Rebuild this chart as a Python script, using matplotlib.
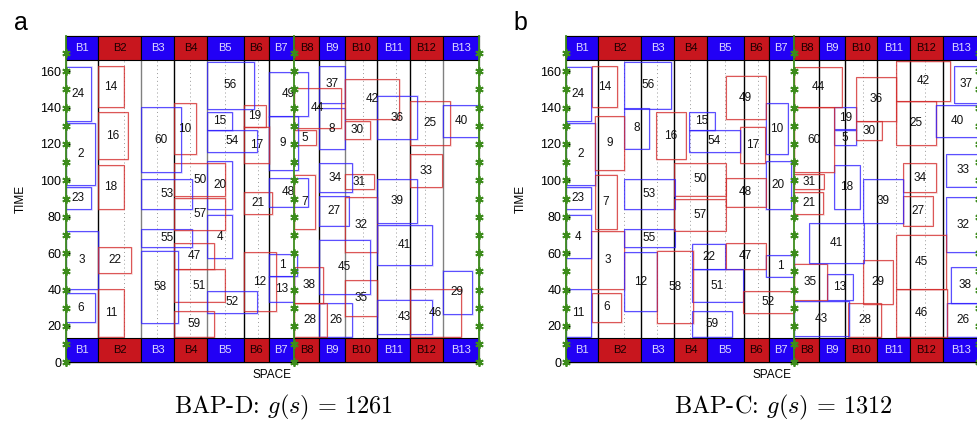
import numpy as np
import matplotlib
matplotlib.use('Agg')
import matplotlib.pyplot as plt
from matplotlib.patches import Rectangle

plt.rcParams['font.family'] = ['Liberation Sans', 'DejaVu Sans']
plt.rcParams['mathtext.fontset'] = 'cm'

# berths (quay length units)
berth_names = ['B%d' % i for i in range(1, 14)]
berth_len = [40, 53, 40, 40.4, 45, 30.6, 31.1, 31.1, 31.1, 40, 40.1, 40.2, 44.9]
dotted_pos = [72, 112, 152, 196, 236, 365, 405, 441]
split_berth = 7          # green line after B7
gray_bounds_a = [2, 4, 9, 12]

# vessels 1..60: length and handling time
ves_len = [35, 36, 40, 31, 27, 36, 26, 31, 36, 27,
           31, 40, 31, 31, 31, 36, 31, 31, 27, 31,
           35, 40, 31, 31, 49, 40, 36, 40, 36, 31,
           36, 40, 40, 40, 40, 49, 31, 36, 49, 53,
           67, 67, 67, 58, 62, 63, 49, 49, 49, 63,
           62, 62, 62, 62, 62, 58, 63, 45, 49, 49]
ves_dur = [12, 34, 32, 24, 8.4, 16, 30, 22.3, 29.7, 28,
           26, 32.2, 14.2, 22.4, 9.8, 26, 20.2, 24, 12, 26.2,
           12.1, 14.1, 12, 29.9, 24.4, 18.3, 16.3, 18.3, 24, 10.1,
           8.1, 30.2, 18.1, 15.9, 20, 24, 20.2, 19.8, 24.1, 17.6,
           22, 22, 19, 22, 30, 26, 14.3, 15.8, 24, 17.8,
           17.8, 12.4, 16.3, 12.2, 10, 25.9, 17.4, 40, 14.1, 36]

# BAP-D solution: berth index and start time
berth_a = [7, 1, 1, 5, 8, 1, 8, 9, 7, 4,
           2, 6, 7, 2, 5, 2, 6, 2, 6, 5,
           6, 2, 1, 1, 12, 9, 9, 8, 13, 10,
           10, 10, 12, 9, 10, 11, 9, 8, 11, 13,
           11, 10, 11, 8, 9, 12, 4, 7, 7, 4,
           4, 5, 3, 5, 3, 5, 4, 3, 4, 3]
start_a = [47.4, 97.3, 40.1, 57.1, 119.2, 22.1, 73.1, 117.2, 105.7, 114.3,
           14.1, 28.2, 33.3, 140.3, 127.6, 111.5, 109.3, 84.2, 129.3, 84.2,
           81.3, 49.2, 84.2, 132.6, 119.2, 14.1, 75.1, 14.1, 26.4, 122.5,
           95.2, 60.4, 96.2, 93.4, 25.3, 122.5, 142.6, 32.4, 76.4, 123.6,
           53.5, 133.5, 15.5, 128.6, 37.4, 14.1, 51.1, 85.5, 135.3, 91.5,
           33.3, 26.9, 84.2, 115.4, 63.2, 139.3, 72.7, 21.4, 14.1, 104.4]

# BAP-C solution: quay position, start time, colour
pos_b = [245.4, 0, 31.5, 0, 329.6, 31.9, 36.4, 71.6, 35.6, 245.4,
         0, 71.6, 321, 31.9, 151.7, 111.2, 213.9, 329.6, 329.6, 245.4,
         280.5, 155.4, 0, 0, 405.2, 467.4, 414.3, 346.8, 365.2, 356.6,
         280.5, 467, 467, 414.3, 280.5, 356.6, 476.4, 472.4, 365.2, 454,
         298.5, 405.2, 280.5, 280.5, 405.2, 405.2, 196.3, 196.3, 196.3, 133.3,
         155.4, 217.6, 71.6, 151.7, 71.6, 71.6, 133.3, 111.7, 155.4, 280.5]
start_b = [47.1, 97.3, 40.1, 57.1, 119.2, 22.2, 73.1, 117.4, 105.5, 114.3,
           14.1, 28.2, 34.2, 140.3, 127.7, 111.5, 109.3, 84.2, 128.2, 84.2,
           81.3, 51.1, 84.2, 132.6, 119.2, 14.1, 75.1, 14.1, 32.1, 122.3,
           95.2, 60.4, 96.5, 93.4, 34.2, 132.6, 142.6, 32.4, 76.4, 123.6,
           54.4, 143.6, 14.5, 140.3, 40.1, 14.1, 51.1, 85.5, 133.5, 91.6,
           33.3, 26.9, 84.2, 115.4, 63.2, 139.4, 72.3, 21.4, 14.1, 104.4]
col_b = ['b', 'b', 'r', 'b', 'b', 'r', 'r', 'b', 'r', 'b',
         'b', 'b', 'b', 'r', 'b', 'r', 'r', 'b', 'b', 'b',
         'r', 'b', 'b', 'b', 'r', 'b', 'r', 'r', 'r', 'r',
         'r', 'b', 'b', 'r', 'r', 'r', 'b', 'b', 'b', 'b',
         'b', 'r', 'b', 'r', 'r', 'r', 'r', 'r', 'r', 'r',
         'b', 'r', 'b', 'b', 'b', 'b', 'r', 'r', 'b', 'r']

titles = [r'BAP-D: $g(s)$ = $1261$', r'BAP-C: $g(s)$ = $1312$']
panel_tags = ['a', 'b']

band_blue = '#2200f5'
band_red = '#c8161e'
edge_col = {'b': '#3020ff', 'r': '#d42a2a'}
green = '#3d8c1c'

edges = np.concatenate([[0], np.cumsum(berth_len)])
x_max = edges[-1]
band_h = 13.2
y_top = 179.5


def draw_panel(ax, xs, ts, cols, gray_bounds):
    ax.set_xlim(0, x_max)
    ax.set_ylim(0, y_top)

    # dotted guides
    for xd in dotted_pos:
        ax.plot([xd, xd], [band_h, y_top - band_h], ls=(0, (1, 3)), color='#999999', lw=0.7, zorder=1)
    # berth boundaries
    for i in range(1, len(edges) - 1):
        if i == split_berth:
            continue
        c = '#808080' if i in gray_bounds else 'black'
        ax.plot([edges[i], edges[i]], [0, y_top], color=c, lw=1.0, zorder=2)

    # vessels
    for k in range(len(ves_len)):
        ec = edge_col[cols[k]]
        r = Rectangle((xs[k], ts[k]), ves_len[k], ves_dur[k], fill=False,
                      ec=ec, lw=0.8, alpha=0.75, zorder=3)
        ax.add_patch(r)
        sh = Rectangle((xs[k] + 0.9, ts[k] - 0.4), ves_len[k], ves_dur[k], fill=False,
                       ec=ec, lw=1.2, alpha=0.18, zorder=3)
        ax.add_patch(sh)
        x0 = xs[k]
        x1 = min(xs[k] + ves_len[k], x_max)
        ax.text((x0 + x1) / 2, ts[k] + ves_dur[k] / 2, str(k + 1), ha='center', va='center',
                fontsize=8.5, color='#111111', zorder=4)

    # berth bands top and bottom
    for i, name in enumerate(berth_names):
        fc = band_blue if i % 2 == 0 else band_red
        tc = '#e0dcff' if i % 2 == 0 else '#1a0000'
        for yb in [0, y_top - band_h]:
            ax.add_patch(Rectangle((edges[i], yb), berth_len[i], band_h, fc=fc,
                                   ec='black', lw=0.8, zorder=5))
            ax.text(edges[i] + berth_len[i] / 2, yb + band_h / 2, name, ha='center',
                    va='center', fontsize=8, color=tc, zorder=6)

    # green lines with asterisk markers
    ty = np.arange(0, 171, 10)
    for xg in [0, edges[split_berth], x_max]:
        ax.plot([xg, xg], [0, y_top], color=green, lw=1.3, zorder=7, clip_on=False)
        ax.plot(np.full(len(ty), xg), ty, ls='none', marker=(6, 2, 0), ms=6, mew=1.3,
                color=green, mec=green, zorder=8, clip_on=False)

    ax.set_yticks(np.arange(0, 161, 20))
    ax.set_xticks([])
    ax.tick_params(axis='y', labelsize=9, length=3, direction='in', pad=3)
    for s in ax.spines.values():
        s.set_color('#808080')
        s.set_linewidth(1.0)
    ax.spines['bottom'].set_color('black')
    ax.set_xlabel('SPACE', fontsize=8.5, labelpad=5)
    ax.set_ylabel('TIME', fontsize=8.5, labelpad=10)


fig = plt.figure(figsize=(9.77, 4.25), dpi=100)
ax_w = 0.4233
ax_h = 0.7685
lefts = [0.0672, 0.579]

xa = [edges[b - 1] for b in berth_a]
cols_a = ['b' if (b - 1) % 2 == 0 else 'r' for b in berth_a]
data = [(xa, start_a, cols_a, gray_bounds_a), (pos_b, start_b, col_b, [])]

for p in range(2):
    ax = fig.add_axes([lefts[p], 0.1475, ax_w, ax_h])
    xs, ts, cols, gb = data[p]
    draw_panel(ax, xs, ts, cols, gb)
    fig.text(lefts[p] + ax_w / 2 + 0.011, 0.042, titles[p], ha='center', va='center',
             fontsize=17.5, family='cmr10')
    fig.text(lefts[p] - 0.046, 0.945, panel_tags[p], ha='center', va='center', fontsize=18)

fig.savefig('out.png', dpi=100)
